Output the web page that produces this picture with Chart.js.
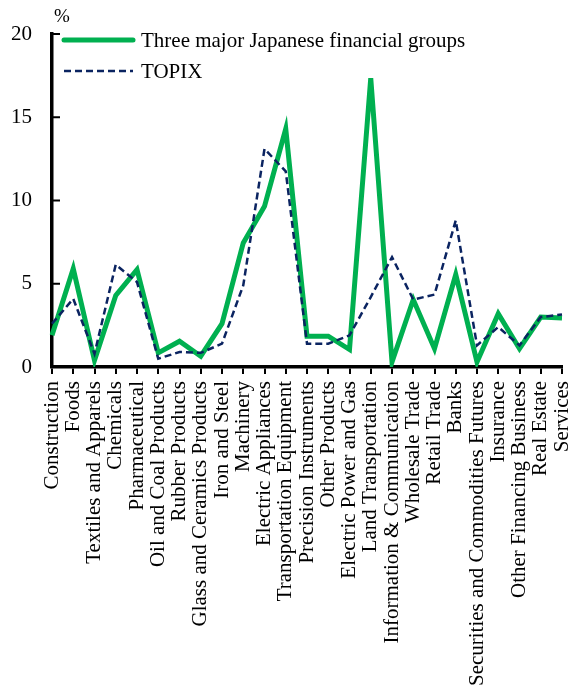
<!DOCTYPE html>
<html>
<head>
<meta charset="utf-8">
<script src="https://cdn.jsdelivr.net/npm/chart.js@4.4.0/dist/chart.umd.min.js"></script>
<style>
  html, body { margin: 0; padding: 0; background: #fff; }
  #wrap { width: 568px; height: 690px; position: relative; }
</style>
</head>
<body>
<div id="wrap"><canvas id="grafico"></canvas></div>
<script>
// categories (TSE sectors)
const sectores = [
    'Construction', 'Foods', 'Textiles and Apparels', 'Chemicals', 'Pharmaceutical',
    'Oil and Coal Products', 'Rubber Products', 'Glass and Ceramics Products', 'Iron and Steel',
    'Machinery', 'Electric Appliances', 'Transportation Equipment', 'Precision Instruments',
    'Other Products', 'Electric Power and Gas', 'Land Transportation',
    'Information & Communication', 'Wholesale Trade', 'Retail Trade', 'Banks',
    'Securities and Commodities Futures', 'Insurance', 'Other Financing Business',
    'Real Estate', 'Services'
];

// share, %
const tresGrupos = [1.9, 5.9, 0.4, 4.3, 5.85, 0.85, 1.55, 0.65, 2.6, 7.45, 9.65, 14.3, 1.85,
    1.85, 1.05, 17.35, 0.3, 4.05, 1.1, 5.55, 0.3, 3.2, 1.1, 3.0, 2.95];
const topix = [2.6, 4.1, 0.8, 6.15, 5.1, 0.5, 0.9, 0.85, 1.4, 4.9, 13.1, 11.75, 1.4,
    1.4, 1.9, 4.2, 6.6, 4.05, 4.35, 8.8, 1.3, 2.4, 1.3, 3.0, 3.15];

const yTicks = [0, 5, 10, 15, 20];

const FUENTE = "'Liberation Serif', 'Times New Roman', serif";
const VERDE = '#00B050';
const AZUL = '#0B2461';
const GUION = [7, 4];

// inward y ticks, % unit, legend inside plot
const extras = {
    id: 'extras',
    afterDraw(chart) {
        const ctx = chart.ctx;
        const y = chart.scales.y;
        const x0 = chart.chartArea.left;
        ctx.save();
        ctx.strokeStyle = '#000';
        ctx.lineWidth = 2;
        yTicks.forEach(v => {
            const py = y.getPixelForValue(v);
            ctx.beginPath();
            ctx.moveTo(x0, py);
            ctx.lineTo(x0 + 8, py);
            ctx.stroke();
        });

        ctx.fillStyle = '#000';
        ctx.font = '19px ' + FUENTE;
        ctx.textAlign = 'left';
        ctx.textBaseline = 'middle';
        ctx.fillText('%', 54, 17);

        // legend
        const filas = [
            { texto: 'Three major Japanese financial groups', color: VERDE, ancho: 5, dash: [], y: 40 },
            { texto: 'TOPIX', color: AZUL, ancho: 2.5, dash: GUION, y: 71 }
        ];
        ctx.font = '21px ' + FUENTE;
        filas.forEach(f => {
            ctx.strokeStyle = f.color;
            ctx.lineWidth = f.ancho;
            ctx.lineCap = f.dash.length ? 'butt' : 'round';
            ctx.setLineDash(f.dash);
            ctx.beginPath();
            ctx.moveTo(64, f.y);
            ctx.lineTo(133, f.y);
            ctx.stroke();
            ctx.setLineDash([]);
            ctx.fillStyle = '#000';
            ctx.fillText(f.texto, 141, f.y + 1);
        });
        ctx.restore();
    }
};

const ctx = document.getElementById('grafico').getContext('2d');
new Chart(ctx, {
    type: 'line',
    data: {
        labels: sectores,
        datasets: [
            {
                label: 'Three major Japanese financial groups',
                data: tresGrupos,
                borderColor: VERDE,
                backgroundColor: VERDE,
                borderWidth: 5,
                pointRadius: 0,
                tension: 0,
                borderJoinStyle: 'miter',
                order: 1
            },
            {
                label: 'TOPIX',
                data: topix,
                borderColor: AZUL,
                backgroundColor: AZUL,
                borderWidth: 2.5,
                borderDash: GUION,
                pointRadius: 0,
                tension: 0,
                order: 0
            }
        ]
    },
    options: {
        responsive: true,
        maintainAspectRatio: false,
        animation: false,
        layout: { padding: { top: 34, right: 6, left: 0, bottom: 0 } },
        plugins: {
            legend: { display: false },
            tooltip: { enabled: false }
        },
        scales: {
            x: {
                offset: false,
                afterFit(scale) {
                    scale.height = 323;
                    scale.paddingRight = 0;
                    scale.paddingLeft = 0;
                },
                ticks: {
                    autoSkip: false,
                    maxRotation: 90,
                    minRotation: 90,
                    padding: 7,
                    color: '#000',
                    font: { family: FUENTE, size: 21 }
                },
                grid: {
                    display: true,
                    drawOnChartArea: false,
                    drawTicks: true,
                    tickLength: 7,
                    color: '#000',
                    lineWidth: 2
                },
                border: { display: true, color: '#000', width: 3.5 }
            },
            y: {
                min: 0,
                max: 20,
                afterFit(scale) {
                    scale.width = 52;
                },
                afterBuildTicks(scale) {
                    scale.ticks = yTicks.map(v => ({ value: v }));
                },
                ticks: {
                    padding: 12,
                    color: '#000',
                    font: { family: FUENTE, size: 21 }
                },
                grid: { display: false },
                border: { display: true, color: '#000', width: 3.5 }
            }
        }
    },
    plugins: [extras]
});
</script>
</body>
</html>
